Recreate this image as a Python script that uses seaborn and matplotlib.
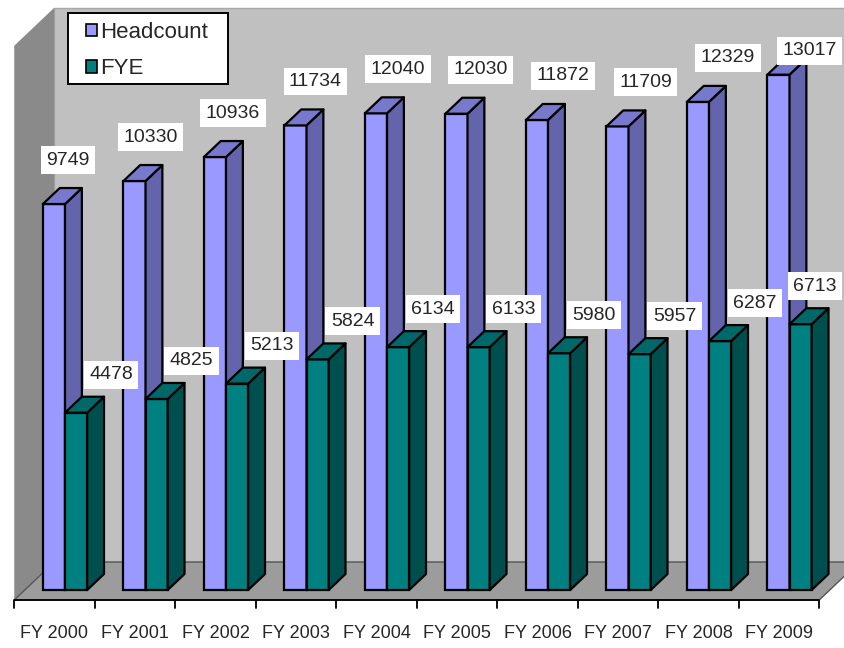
import numpy as np
import pandas as pd
import matplotlib
matplotlib.use("Agg")
import matplotlib.pyplot as plt
from matplotlib.patches import Polygon, Patch, Rectangle
from matplotlib.transforms import Affine2D
import seaborn as sns

# --- Data ---
years = ["FY 2000", "FY 2001", "FY 2002", "FY 2003", "FY 2004",
         "FY 2005", "FY 2006", "FY 2007", "FY 2008", "FY 2009"]
headcount = [9749, 10330, 10936, 11734, 12040, 12030, 11872, 11709, 12329, 13017]
fye = [4478, 4825, 5213, 5824, 6134, 6133, 5980, 5957, 6287, 6713]
series = ["Headcount", "FYE"]

# front, side, top colours
COLORS = {"Headcount": ("#9999ff", "#6464ad", "#7878cc"),
          "FYE": ("#008080", "#004f4f", "#006868")}

# --- fake 3D geometry (pixels) ---
W, H = 844, 648
PX_CAT = 80.5       # pixels per category
PX_VAL = 0.03959    # pixels per value unit
X0 = 54.5           # pixel x of first category centre on floor front
Y0 = 600            # pixel y (from top) of value 0 on floor front
DEPTH = (40, 38)    # shift from floor front to back wall
VMAX = 14000
BAR_FRONT, BAR_BACK = 10 / 38, 26 / 38

DX = DEPTH[0] / PX_CAT
DY = DEPTH[1] / PX_VAL


def proj(c, v, d):
    return (c + d * DX, v + d * DY)


def ypix(p):
    # pixel row (from top) -> value units on the floor-front plane
    return (Y0 - p) / PX_VAL


sns.set_theme(style="white")
plt.rcParams["font.family"] = ["Liberation Sans", "DejaVu Sans"]

fig = plt.figure(figsize=(W / 100, H / 100), dpi=100)
ax = fig.add_axes([0, 0, 1, 1])

df = pd.DataFrame({
    "year": years * 2,
    "series": ["Headcount"] * len(years) + ["FYE"] * len(years),
    "value": headcount + fye,
})
sns.barplot(data=df, x="year", y="value", hue="series", hue_order=series,
            palette={s: COLORS[s][0] for s in series}, saturation=1,
            width=0.55, errorbar=None, edgecolor="black", linewidth=1.6,
            legend=False, ax=ax)

ax.set_xlim(-X0 / PX_CAT, (W - X0) / PX_CAT)
ax.set_ylim(ypix(H), ypix(0))
ax.axis("off")

# walls and floor
left, right = -0.5, len(years) - 0.5
floor = [proj(left, 0, 0), proj(right, 0, 0), proj(right, 0, 1), proj(left, 0, 1)]
back = [proj(left, 0, 1), proj(right + 1, 0, 1), proj(right + 1, VMAX, 1), proj(left, VMAX, 1)]
lwall = [proj(left, 0, 0), proj(left, 0, 1), proj(left, VMAX, 1), proj(left, VMAX, 0)]
ax.add_patch(Polygon(back, closed=True, fc="#c0c0c0", ec="#a8a8a8", lw=1, zorder=1))
ax.add_patch(Polygon(lwall, closed=True, fc="#8a8a8a", ec="none", zorder=1.1))
ax.add_patch(Polygon(floor, closed=True, fc="#9c9c9c", ec="#555555", lw=1, zorder=1.2))

# category axis on the floor front edge
ax.plot([left, right], [0, 0], color="black", lw=1.3, zorder=2, solid_capstyle="butt")
for b in np.arange(left, right + 1):
    ax.plot([b, b], [0, -8 / PX_VAL], color="black", lw=1.3, zorder=2)
for i, yr in enumerate(years):
    ax.text(i, ypix(634), yr, ha="center", va="center", fontsize=13, zorder=2)

# bars: move fronts back into the floor and add side / top faces
labels = []
for k, (s, cont) in enumerate(zip(series, ax.containers)):
    front_c, side_c, top_c = COLORS[s]
    for i, bar in enumerate(cont):
        x0, w, h = bar.get_x(), bar.get_width(), bar.get_height()
        bar.set_transform(Affine2D().translate(BAR_FRONT * DX, BAR_FRONT * DY) + ax.transData)
        bar.set_zorder(3 + 2 * k)
        side = [proj(x0 + w, 0, BAR_FRONT), proj(x0 + w, 0, BAR_BACK),
                proj(x0 + w, h, BAR_BACK), proj(x0 + w, h, BAR_FRONT)]
        top = [proj(x0, h, BAR_FRONT), proj(x0 + w, h, BAR_FRONT),
               proj(x0 + w, h, BAR_BACK), proj(x0, h, BAR_BACK)]
        for poly, col in ((side, side_c), (top, top_c)):
            ax.add_patch(Polygon(poly, closed=True, fc=col, ec="black", lw=1.6,
                                 joinstyle="round", zorder=3.5 + 2 * k))
        # data label, offset from the top of the front face
        px, py = ax.transData.transform(proj(x0 + w / 2, h, BAR_FRONT))
        if s == "Headcount":
            px, py = px + 14 + 2 * i, py + 44
        else:
            px, py = px + 35, py + 38
        t = ax.text(*ax.transData.inverted().transform((px, py)), f"{h:.0f}",
                    ha="center", va="center", fontsize=14, zorder=10,
                    bbox=dict(boxstyle="square,pad=0.28", fc="white", ec="none"))
        labels.append(t)

# keep labels inside the chart area
fig.canvas.draw()
renderer = fig.canvas.get_renderer()
for t in labels:
    bb = t.get_bbox_patch().get_window_extent(renderer)
    sx = min(0, (W - 2) - bb.x1)
    sy = min(0, (H - 37) - bb.y1)
    if sx or sy:
        px, py = ax.transData.transform(t.get_position())
        t.set_position(ax.transData.inverted().transform((px + sx, py + sy)))

# legend: plain box with the entries inside
ax.add_patch(Rectangle((68 / W, 1 - 84 / H), 160 / W, 71 / H, transform=fig.transFigure,
                       fc="white", ec="black", lw=1.4, zorder=19))
handles = [Patch(fc=COLORS[s][0], ec="black", lw=1.2) for s in series]
leg = ax.legend(handles, series, loc="upper left",
                bbox_to_anchor=(86 / W, 1 - 22 / H), bbox_transform=fig.transFigure,
                fontsize=16, frameon=False, borderaxespad=0, borderpad=0,
                handlelength=0.5, handleheight=0.5, handletextpad=0.12,
                labelspacing=0.68)
leg.set_zorder(20)

fig.savefig("out.png", dpi=100, facecolor="white")
